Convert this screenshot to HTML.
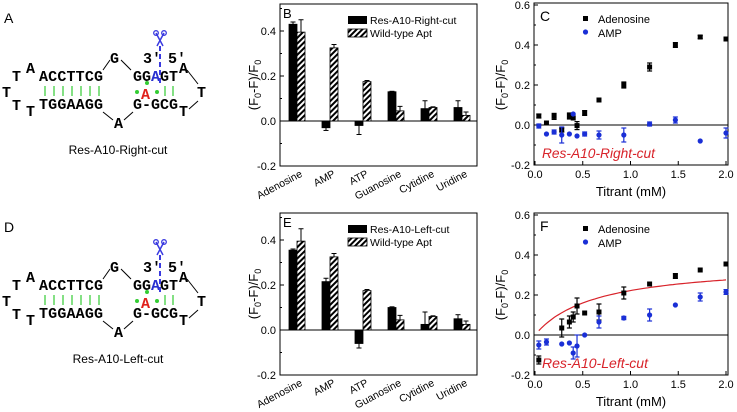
<!DOCTYPE html>
<html><head><meta charset="utf-8"><style>
body{margin:0;background:#fff}
svg{display:block;font-family:"Liberation Sans",sans-serif}
.m{font-family:"Liberation Mono",monospace;font-weight:bold;font-size:15px}
</style></head><body>
<svg id="s" width="737" height="412" viewBox="0 0 737 412">
<defs><pattern id="h" patternUnits="userSpaceOnUse" width="4" height="4" patternTransform="rotate(45)"><rect width="4" height="4" fill="#fff"/><rect width="2" height="4" fill="#000"/></pattern></defs>
<g id="diagrams"></g>
</svg>
<script>
const cats=["Adenosine","AMP","ATP","Guanosine","Cytidine","Uridine"];
const wildVals=[0.395,0.325,0.175,0.045,0.06,0.025];
const wildErr=[0.055,0.015,0.005,0.02,0.003,0.015];
const rightVals=[0.43,-0.03,-0.02,0.13,0.055,0.06];
const rightErr=[0.01,0.012,0.04,0.002,0.035,0.03];
const leftVals=[0.355,0.215,-0.06,0.1,0.025,0.05];
const leftErr=[0.005,0.015,0.02,0.003,0.055,0.018];
const barTicks=[-0.2,0.0,0.2,0.4];
const cAdoX=[0.04,0.12,0.2,0.28,0.36,0.4,0.44,0.52,0.67,0.93,1.2,1.47,1.73,2.0];
const cAdoY=[0.045,0.01,0.043,-0.025,0.045,0.035,-0.003,0.06,0.125,0.2,0.29,0.4,0.44,0.43];
const cAdoE=[0.01,0,0.015,0.01,0.015,0,0.02,0.012,0,0.015,0.02,0.012,0.008,0];
const cAmpX=[0.04,0.12,0.2,0.28,0.36,0.4,0.44,0.52,0.67,0.93,1.2,1.47,1.73,2.0];
const cAmpY=[-0.005,-0.045,-0.035,-0.05,-0.045,0.055,-0.055,-0.045,-0.05,-0.05,0.005,0.025,-0.08,-0.04];
const cAmpE=[0.01,0,0.01,0.04,0,0,0,0.01,0.02,0.035,0.01,0.015,0,0.025];
const fAdoX=[0.04,0.28,0.36,0.4,0.44,0.52,0.67,0.93,1.2,1.47,1.73,2.0];
const fAdoY=[-0.125,0.035,0.065,0.09,0.145,0.11,0.115,0.21,0.255,0.295,0.325,0.355];
const fAdoE=[0.02,0.045,0.03,0.025,0.04,0,0.04,0.03,0,0.012,0,0.008];
const fAmpX=[0.04,0.12,0.28,0.36,0.4,0.44,0.52,0.67,0.93,1.2,1.47,1.73,2.0];
const fAmpY=[-0.05,-0.035,-0.045,-0.04,-0.09,-0.055,0.0,0.065,0.085,0.1,0.15,0.19,0.215];
const fAmpE=[0.02,0.015,0,0,0.03,0.055,0,0.03,0.008,0.03,0,0.02,0.012];
const fitA=0.362, fitK=0.63;
const xTicks=[0,0.5,1.0,1.5,2.0];
const yTicks=[-0.2,0,0.2,0.4,0.6];

const NS="http://www.w3.org/2000/svg",S=document.getElementById('s');
function el(t,a,p,txt){const e=document.createElementNS(NS,t);for(const k in a)e.setAttribute(k,a[k]);if(txt!==undefined)e.textContent=txt;(p||S).appendChild(e);return e;}
function ylab(p,x,y){const t=el('text',{x:x,y:y,'font-size':13,'text-anchor':'middle',transform:`rotate(-90 ${x} ${y})`},p);
 t.innerHTML='(F<tspan font-size="9" dy="3">0</tspan><tspan dy="-3">-F)/F</tspan><tspan font-size="9" dy="3">0</tspan>';}

function barPanel(oy,label,blackVals,blackErr,legend){
 const g=el('g',{},S);
 
 
 const L=280,R=477,T=oy+4,B=oy+166,y0=oy+121,k=45/0.2;
 const Y=v=>y0-v*k, X=i=>L+17+i*33;
 el('rect',{x:L,y:T,width:R-L,height:B-T,fill:'none',stroke:'#000','stroke-width':1},g);
 el('line',{x1:L,x2:R,y1:y0,y2:y0,stroke:'#000','stroke-width':1},g);
 for(let v=-0.2;v<=0.5;v+=0.1){const y=Y(v);const maj=Math.abs(Math.round(v*10))%2==0;
  el('line',{x1:L,x2:L+(maj?4:2),y1:y,y2:y,stroke:'#000'},g);}
 barTicks.forEach(v=>el('text',{x:L-4,y:Y(v)+4,'font-size':11,'text-anchor':'end'},g,v.toFixed(1)));
 cats.forEach((c,i)=>{
  const cx=X(i);
  [[blackVals[i],blackErr[i],'#000',cx-8],[wildVals[i],wildErr[i],'url(#h)',cx]].forEach(([v,e,f,x],j)=>{
   const r=el('rect',{x:x,y:Math.min(Y(v),y0),width:8,height:Math.abs(Y(v)-y0),fill:f,stroke:'#000','stroke-width':0.8},g);
   
   
   const ex=x+4,yt=Y(v+(v>=0?e:-e));
   el('line',{x1:ex,x2:ex,y1:Y(v),y2:yt,stroke:'#000'},g);
   el('line',{x1:ex-2.5,x2:ex+2.5,y1:yt,y2:yt,stroke:'#000'},g);
  });
  el('text',{x:cx+6,y:B+10,'font-size':10.5,'text-anchor':'end',transform:`rotate(-28 ${cx+6} ${B+10})`},g,c);
 });
 el('text',{x:L+3,y:T+14,'font-size':13},g,label);
 el('rect',{x:348,y:T+12,width:19,height:8,fill:'#000'},g);
 el('text',{x:370,y:T+20,'font-size':10.5},g,legend);
 el('rect',{x:348,y:T+25,width:19,height:8,fill:'url(#h)',stroke:'#000','stroke-width':0.8},g);
 el('text',{x:370,y:T+33,'font-size':10.5},g,'Wild-type Apt');
 ylab(g,258,oy+85);
}
function scatPanel(oy,label,ax,ay,ae,bx,by,be,title,tl,fit){
 const g=el('g',{},S);
 
 
 const L=534,R=728,T=oy+3,B=oy+165,y0=oy+125,k=40/0.2;
 const X=v=>535+v*95.5, Y=v=>y0-v*k;
 el('rect',{x:L,y:T,width:R-L,height:B-T,fill:'none',stroke:'#000'},g);
 el('line',{x1:L,x2:R,y1:y0,y2:y0,stroke:'#000'},g);
 yTicks.forEach(v=>{el('line',{x1:L,x2:L+4,y1:Y(v),y2:Y(v),stroke:'#000'},g);
  el('text',{x:L-4,y:Y(v)+4,'font-size':11,'text-anchor':'end'},g,v.toFixed(1));});
 for(let v=-0.1;v<0.6;v+=0.2)el('line',{x1:L,x2:L+2,y1:Y(v),y2:Y(v),stroke:'#000'},g);
 xTicks.forEach(v=>{el('line',{x1:X(v),x2:X(v),y1:B,y2:B-4,stroke:'#000'},g);
  el('text',{x:X(v),y:B+13,'font-size':11,'text-anchor':'middle'},g,v.toFixed(1));});
 el('text',{x:631,y:B+31,'font-size':13,'text-anchor':'middle'},g,'Titrant (mM)');
 ylab(g,505,oy+85);
 if(fit){let d='';for(let i=0;i<=60;i++){const x=0.04+i*(1.96/60);d+=(i?'L':'M')+X(x).toFixed(1)+','+Y(fitA*x/(fitK+x)).toFixed(1);}
  const p=el('path',{d:d,fill:'none',stroke:'#d8232a','stroke-width':1.2},g);
  }
 function ser(xs,ys,es,col,sq,nm){xs.forEach((x,i)=>{const cx=X(x),cy=Y(ys[i]);
  if(es[i]>0){el('line',{x1:cx,x2:cx,y1:Y(ys[i]-es[i]),y2:Y(ys[i]+es[i]),stroke:col,'stroke-width':1.2},g);
   [ys[i]-es[i],ys[i]+es[i]].forEach(v=>el('line',{x1:cx-2.5,x2:cx+2.5,y1:Y(v),y2:Y(v),stroke:col,'stroke-width':1.2},g));}
  const m=sq?el('rect',{x:cx-2.5,y:cy-2.5,width:5,height:5,fill:col},g):el('circle',{cx:cx,cy:cy,r:2.6,fill:col},g);
  });}
 ser(ax,ay,ae,'#000',true,'adenosine');ser(bx,by,be,'#1a2fd6',false,'amp');
 el('text',{x:540,y:oy+21,'font-size':14},g,label);
 el('rect',{x:583,y:oy+16,width:5,height:5,fill:'#000'},g);
 el('text',{x:598,y:oy+23,'font-size':11},g,'Adenosine');
 el('circle',{cx:585.5,cy:oy+32,r:2.6,fill:'#1a2fd6'},g);
 el('text',{x:598,y:oy+37,'font-size':11},g,'AMP');
 el('text',{x:542,y:oy+158,'font-size':14,'font-style':'italic',fill:'#d8232a',textLength:tl,lengthAdjust:'spacingAndGlyphs'},g,title);
}
function diagram(oy,label,caption){
 const g=el('g',{},document.getElementById('diagrams'));
 
 
 const t=(x,y,s,o)=>el('text',Object.assign({x:x,y:y+oy,class:'m'},o||{}),g,s);
 el('text',{x:4,y:oy+23,'font-size':14},g,label);
 t(12,81,'T');t(26,73,'A',{'font-size':12});t(39,81,'ACCTTCG',{textLength:64});
 t(110,63,'G');t(133,81,'GG',{textLength:18});t(151,81,'A',{fill:'#2830d0'});t(160,81,'GT',{textLength:18});t(179,73,'A');
 t(143,63,"3′",{'font-size':12});t(168,63,"5′",{'font-size':12});
 t(2,97,'T');t(197,97,'T');
 t(12,110,'T');t(26,116,'T',{'font-size':12});t(39,109,'TGGAAGG',{textLength:64});
 t(133,109,'G-GCG',{textLength:45});t(179,116,'T');t(114,128,'A');
 t(141,99,'A',{fill:'#e0201c'});
 for(let i=0;i<7;i++)el('line',{x1:45+i*9,x2:45+i*9,y1:oy+86,y2:oy+96,stroke:'#33cc33','stroke-width':1.2},g);
 [165,173].forEach(x=>el('line',{x1:x,x2:x,y1:oy+86,y2:oy+96,stroke:'#33cc33','stroke-width':1.2},g));
 [[137,92],[157,92],[147,83]].forEach(([x,y])=>el('circle',{cx:x,cy:y+oy,r:2,fill:'#33cc33'},g));
 const ln=(a,b,c,d)=>el('line',{x1:a,y1:b+oy,x2:c,y2:d+oy,stroke:'#000','stroke-width':1},g);
 ln(103,70,110,60);ln(121,60,131,70);ln(103,112,113,120);ln(124,120,133,112);ln(187,70,198,84);ln(198,101,189,109);
 el('line',{x1:160,x2:160,y1:oy+46,y2:oy+84,stroke:'#3a3ae0','stroke-width':2,'stroke-dasharray':'5,3'},g);
 el('path',{d:`M156 ${oy+33} L163 ${oy+46} M164 ${oy+33} L157 ${oy+46}`,stroke:'#3a3ae0','stroke-width':1.5,fill:'none'},g);
 el('circle',{cx:156,cy:oy+33,r:2.3,fill:'none',stroke:'#3a3ae0','stroke-width':1.3},g);
 el('circle',{cx:164,cy:oy+33,r:2.3,fill:'none',stroke:'#3a3ae0','stroke-width':1.3},g);
 el('text',{x:118,y:oy+154,'font-size':12,'text-anchor':'middle'},g,caption);
}
diagram(0,'A','Res-A10-Right-cut');
diagram(209,'D','Res-A10-Left-cut');
barPanel(0,'B',rightVals,rightErr,'Res-A10-Right-cut');
barPanel(209,'E',leftVals,leftErr,'Res-A10-Left-cut');
scatPanel(0,'C',cAdoX,cAdoY,cAdoE,cAmpX,cAmpY,cAmpE,'Res-A10-Right-cut',113,false);
scatPanel(210,'F',fAdoX,fAdoY,fAdoE,fAmpX,fAmpY,fAmpE,'Res-A10-Left-cut',106,true);
</script>
</body></html>
